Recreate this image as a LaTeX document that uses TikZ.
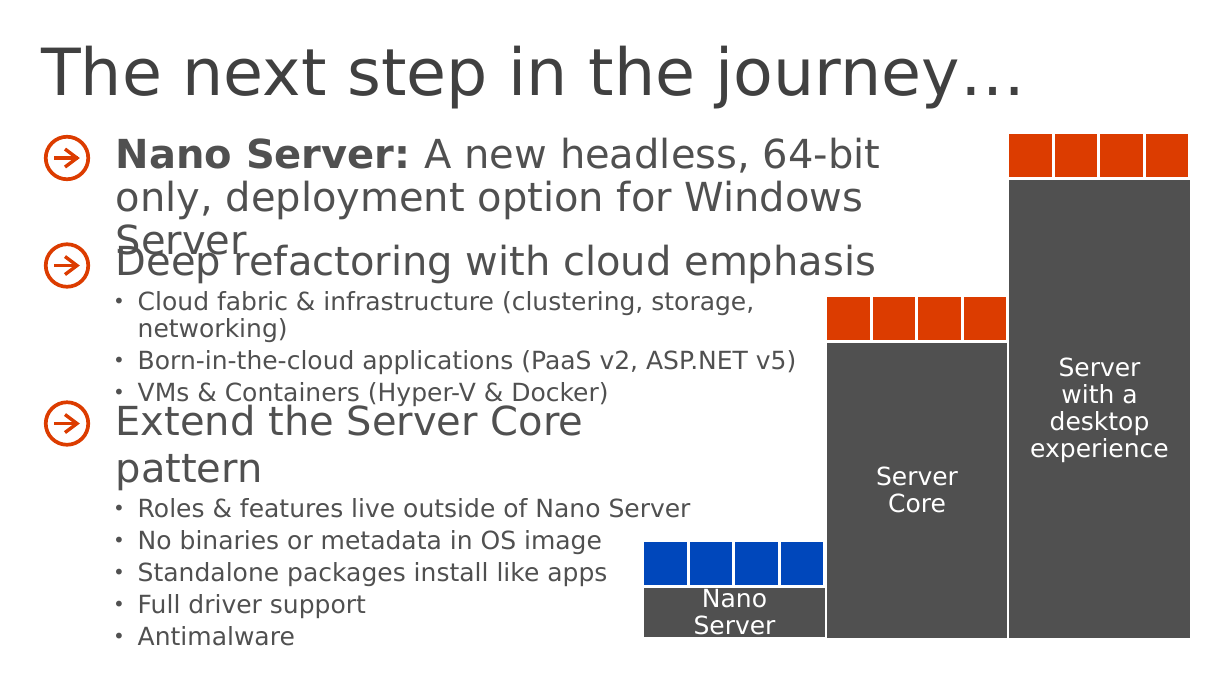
\documentclass[tikz,border=0pt]{standalone}
\usepackage{fontspec}
\setmainfont{DejaVu Sans}
\definecolor{titlegray}{HTML}{404040}
\definecolor{bodygray}{HTML}{505050}
\definecolor{boxgray}{HTML}{505050}
\definecolor{appred}{HTML}{DC3C00}
\definecolor{appblue}{HTML}{0047BB}
\tikzset{
  title/.style={anchor=base west, inner sep=0pt, text=titlegray, font=\fontsize{65}{65}\selectfont},
  heading/.style={anchor=base west, inner sep=0pt, text=bodygray, font=\fontsize{40}{40}\selectfont},
  sub/.style={anchor=base west, inner sep=0pt, text=bodygray, font=\fontsize{25}{25}\selectfont},
  dot/.style={anchor=base west, inner sep=0pt, text=bodygray, font=\fontsize{20}{20}\selectfont},
  tier/.style={anchor=north west, inner sep=0pt, fill=boxgray},
  tierlabel/.style={text=white, align=center, inner sep=0pt, font=\fontsize{25}{27}\selectfont},
  app/.style={anchor=north west, inner sep=0pt, minimum width=42.5pt, minimum height=43pt},
  badge/.style={circle, draw=appred, line width=3.7pt, minimum size=42.5pt, inner sep=0pt},
  pointer/.style={draw=appred, line width=3.4pt}
}
\begin{document}
\begin{tikzpicture}[x=1pt, y=-1pt]
  \useasboundingbox (0, 0) rectangle (1225, 689);
  \node[title] (heading0) at (41, 95) {The next step in the journey…};

  % badges
  \foreach \name/\ypos in {one/158, two/265.5, three/423.5} {
    \node[badge] (\name) at (67, \ypos) {};
    \draw[pointer] (\name.center) ++(-13, 0) -- ++(24, 0);
    \draw[pointer] (\name.center) ++(-2, -9) -- ++(12, 9) -- ++(-12, 9);
  }

  \node[heading] (nano1) at (115.5, 168) {\textbf{Nano Server:}\hspace{-3pt} A new headless, 64-bit};
  \node[heading] (nano2) at (115.5, 211) {only, deployment option for Windows};
  \node[heading] (nano3) at (115.5, 254) {Server};
  \node[heading] (deep) at (115.5, 275) {Deep refactoring with cloud emphasis};
  \node[sub] (cloud1) at (137.5, 310) {Cloud fabric \& infrastructure (clustering, storage,};
  \node[sub] (cloud2) at (137.5, 337) {networking)};
  \node[sub] (born) at (137.5, 369) {Born-in-the-cloud applications (PaaS v2, ASP.NET v5)};
  \node[sub] (vms) at (137.5, 401) {VMs \& Containers (Hyper-V \& Docker)};
  \node[heading] (extend1) at (115.5, 435) {Extend the Server Core};
  \node[heading] (extend2) at (115.5, 482) {pattern};
  \node[sub] (roles) at (137.5, 517) {Roles \& features live outside of Nano Server};
  \node[sub] (binaries) at (137.5, 549) {No binaries or metadata in OS image};
  \node[sub] (packages) at (137.5, 581) {Standalone packages install like apps};
  \node[sub] (driver) at (137.5, 613) {Full driver support};
  \node[sub] (malware) at (137.5, 645) {Antimalware};

  % bullets
  \foreach \ypos in {308, 367, 399, 515, 547, 579, 611, 643}
    \node[dot] at (113, \ypos) {•};

  % tiers
  \node[tier, minimum width=180.5pt, minimum height=49.5pt] (nano) at (644, 587.5) {};
  \node[tier, minimum width=180pt, minimum height=295pt] (core) at (827, 342.5) {};
  \node[tier, minimum width=180.5pt, minimum height=458pt] (desktop) at (1009, 179.5) {};
  \node[tierlabel] (nanolabel) at (734.5, 612) {Nano\\Server};
  \node[tierlabel] (corelabel) at (917, 490) {Server\\Core};
  \node[tierlabel] (desktoplabel) at (1099.5, 410) {Server\\with a\\desktop\\experience};

  % apps
  \foreach \i in {0, 1, 2, 3} {
    \node[app, fill=appblue] (nanoapp\i) at (644 + 45.5*\i, 542) {};
    \node[app, fill=appred] (coreapp\i) at (827 + 45.5*\i, 297) {};
    \node[app, fill=appred] (desktopapp\i) at (1009 + 45.5*\i, 134) {};
  }
\end{tikzpicture}
\end{document}
